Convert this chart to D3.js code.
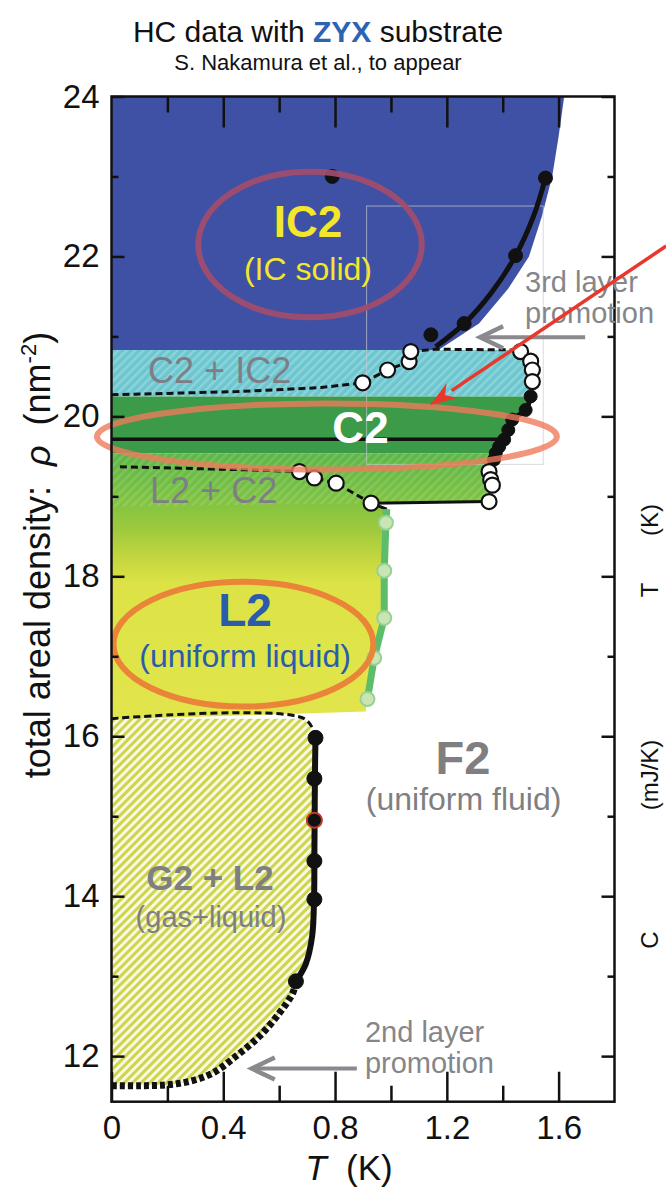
<!DOCTYPE html>
<html><head><meta charset="utf-8">
<script src="https://cdn.jsdelivr.net/npm/d3@7/dist/d3.min.js"></script>
<style>html,body{margin:0;padding:0;background:#fff;} svg{display:block;font-family:"Liberation Sans",Arial,Helvetica,sans-serif;}</style>
</head><body>
<svg id="chart" width="666" height="1189"></svg>
<script>
// ---------------- data ----------------
const xMajorTicks = [0, 0.4, 0.8, 1.2, 1.6];
const xTickLabels = ["0", "0.4", "0.8", "1.2", "1.6"];
const xMinorTicks = [0.2, 0.6, 1.0, 1.4];
const yMajorTicks = [12, 14, 16, 18, 20, 22, 24];
const yTickLabels = ["12", "14", "16", "18", "20", "22", "24"];
const yMinorTicks = [13, 15, 17, 19, 21, 23];

// phase boundaries (T [K], rho [nm^-2])
const ic2Edge = [[1.62,24],[1.60,23.5],[1.577,23],[1.54,22.5],[1.494,22],[1.42,21.6],[1.315,21.16],[1.17,20.83]];
const c2ic2Edge = [[1.47,20.83],[1.50,20.69],[1.51,20.58],[1.51,20.435],[1.505,20.25]];
const c2Edge = [[1.505,20.25],[1.49,20.08],[1.44,19.96],[1.425,19.83],[1.41,19.71],[1.39,19.62],[1.375,19.54]];
const l2c2Edge = [[1.375,19.54],[1.365,19.3],[1.36,19.1],[1.355,18.93],[0.93,18.915]];
const l2Edge = [[0.985,18.84],[0.982,18.67],[0.976,18.07],[0.976,17.48],[0.94,16.98],[0.916,16.465],[0.91,16.31]];
const ic2Bottom = 20.83, c2Top = 20.25, c2Bottom = 19.54, l2c2HatchLeft = 18.87, l2BottomLeft = 16.21;
const g2l2Top = [[0,16.22],[0.69,16.22],[0.73,16.0]];
const g2l2Line = [[0.73,16.0],[0.728,15.5],[0.727,15.0],[0.726,14.5],[0.725,14.0],[0.718,13.5],[0.695,13.15],[0.66,12.935]];
const g2l2Dotted = [[0.66,12.935],[0.6486,12.79],[0.601,12.54],[0.53,12.25],[0.446,12.0],[0.363,11.79],[0.28,11.685],[0.196,11.64],[0.1,11.63],[0.0,11.63]];

// measured points
const ic2Line = [[1.16,20.87],[1.262,21.16],[1.36,21.55],[1.446,22.01],[1.51,22.5],[1.553,22.98]];
const ic2Dots = [[0.79,23.0],[1.143,21.02],[1.262,21.16],[1.446,22.01],[1.553,22.98]];
const c2Dots = [[1.5,20.25],[1.482,20.08],[1.434,19.96],[1.42,19.83],[1.405,19.71],[1.387,19.62],[1.375,19.54],[1.369,19.46]];
const cyanLeftOpen = [[0.899,20.42],[0.988,20.58],[1.065,20.685],[1.071,20.81]];
const cyanRightOpen = [[1.464,20.81],[1.5,20.69],[1.506,20.58],[1.506,20.435]];
const l2c2LeftOpen = [[0.6725,19.31],[0.726,19.23],[0.804,19.165],[0.929,18.915]];
const l2c2RightOpen = [[1.351,19.31],[1.357,19.21],[1.363,19.14],[1.351,18.935]];
const l2Points = [[0.982,18.67],[0.976,18.07],[0.976,17.48],[0.94,16.98],[0.916,16.465]];
const g2l2Dots = [[0.73,15.98],[0.726,15.47],[0.726,14.95],[0.726,14.44],[0.726,13.96],[0.66,12.935]];
const highlightedDot = [[0.726,14.95]];

// dashed / solid guide lines
const dashC2IC2Top = [[1.071,20.81],[1.16,20.84],[1.46,20.83]];
const dashC2IC2Bottom = [[0,20.27],[0.45,20.31],[0.75,20.36],[0.899,20.42],[0.988,20.58],[1.065,20.685],[1.071,20.81]];
const dashL2C2 = [[0.03,19.37],[0.5,19.33],[0.6725,19.31],[0.726,19.23],[0.804,19.165],[0.929,18.915]];
const c2Line = [[0,19.715],[1.405,19.715]];
const l2c2Floor = [[0.929,18.915],[1.351,18.935]];
const l2Link = [[0.929,18.915],[0.985,18.84]];

// annotation ellipses: [T, rho, rT, rRho]
const ellipseIC2 = [0.7105, 22.149, 0.40, 0.91];
const ellipseC2 = [0.771, 19.748, 0.823, 0.413];
const ellipseL2 = [0.472, 17.151, 0.465, 0.78];

// arrows
const redArrow = [[1.985,22.13],[1.140,20.14]];
const arrow3rd = [[1.695,20.99],[1.319,20.99]];
const arrow2nd = [[0.878,11.844],[0.502,11.844]];
const insetBox = [[0.913,22.63],[1.545,19.4]];

// ---------------- chart ----------------
const svg = d3.select("#chart");
const defs = svg.append("defs");
const x = d3.scaleLinear().domain([0, 1.8]).range([111.5, 614.5]);
const y = d3.scaleLinear().domain([11.43, 24]).range([1101.7, 96.5]);
const X0 = x(0), X1 = x(1.8), Y0 = y(24), Y1 = y(11.43);

defs.append("clipPath").attr("id","plotclip").append("rect")
  .attr("x",X0).attr("y",Y0).attr("width",X1-X0).attr("height",Y1-Y0);

function stripes(id, bg, fg, size, lw){
  const p = defs.append("pattern").attr("id",id).attr("patternUnits","userSpaceOnUse")
    .attr("width",size).attr("height",size).attr("patternTransform","rotate(45)");
  if (bg) p.append("rect").attr("width",size).attr("height",size).attr("fill",bg);
  p.append("rect").attr("width",lw).attr("height",size).attr("fill",fg);
}
stripes("hatchG2L2", "#f8f9e0", "#cdd54f", 6, 3);
stripes("hatchCyan", "#6cc6cf", "#8dd3da", 6, 2.5);
stripes("hatchL2C2", null, "rgba(255,255,255,0.13)", 6, 2.5);

const grad = defs.append("linearGradient").attr("id","l2grad").attr("gradientUnits","userSpaceOnUse")
  .attr("x1",0).attr("x2",0).attr("y1",y(c2Bottom)).attr("y2",y(l2BottomLeft));
const gradStops = [[19.54,"#5cb547"],[19.0,"#7cc243"],[18.6,"#9dc93d"],[18.2,"#c6d73f"],[17.9,"#dde346"],[16.21,"#e1e54b"]];
gradStops.forEach(([r,c]) => grad.append("stop")
  .attr("offset", (y(r)-y(c2Bottom))/(y(l2BottomLeft)-y(c2Bottom))).attr("stop-color",c));

const lin = d3.line().x(d=>x(d[0])).y(d=>y(d[1]));
const smooth = d3.line().x(d=>x(d[0])).y(d=>y(d[1])).curve(d3.curveCatmullRom.alpha(0.5));

const plot = svg.append("g").attr("clip-path","url(#plotclip)");

// regions
plot.append("path").attr("d", lin([[0,24], ...ic2Edge, [0,ic2Bottom]]) + "Z").attr("fill","#3e51a4");
plot.append("path").attr("d", lin([[0,ic2Bottom], ...c2ic2Edge, [0,c2Top]]) + "Z").attr("fill","url(#hatchCyan)");
plot.append("path").attr("d", lin([[0,c2Top], ...c2Edge, [0,c2Bottom]]) + "Z").attr("fill","#3b9b48");
plot.append("path").attr("d", lin([[0,c2Bottom], ...l2c2Edge, ...l2Edge, [0,l2BottomLeft]]) + "Z").attr("fill","url(#l2grad)");
plot.append("path").attr("d", lin([[0,c2Bottom], ...l2c2Edge, [0,l2c2HatchLeft]]) + "Z").attr("fill","url(#hatchL2C2)");
plot.append("path").attr("d", lin([...g2l2Top, ...g2l2Line.slice(1), ...g2l2Dotted.slice(1)]) + "Z").attr("fill","url(#hatchG2L2)");

// faint inset box
plot.append("rect").attr("x",x(insetBox[0][0])).attr("y",y(insetBox[0][1]))
  .attr("width",x(insetBox[1][0])-x(insetBox[0][0])).attr("height",y(insetBox[1][1])-y(insetBox[0][1]))
  .attr("fill","none").attr("stroke","#c9c9d2").attr("stroke-width",1).attr("opacity",0.7);

// lines
const dashStyle = s => s.attr("fill","none").attr("stroke","#111").attr("stroke-width",3).attr("stroke-dasharray","7,4");
plot.append("path").attr("d", lin(dashC2IC2Top)).call(dashStyle);
plot.append("path").attr("d", lin(dashC2IC2Bottom)).call(dashStyle);
plot.append("path").attr("d", lin(dashL2C2)).call(dashStyle);
plot.append("path").attr("d", smooth(g2l2Top)).call(dashStyle);
plot.append("path").attr("d", lin(c2Line)).attr("fill","none").attr("stroke","#111").attr("stroke-width",3.5);
plot.append("path").attr("d", lin(l2c2Floor)).attr("fill","none").attr("stroke","#111").attr("stroke-width",3);
plot.append("path").attr("d", lin(l2Link)).attr("fill","none").attr("stroke","#111").attr("stroke-width",3);
plot.append("path").attr("d", smooth(ic2Line)).attr("fill","none").attr("stroke","#111").attr("stroke-width",5);
plot.append("path").attr("d", smooth(c2Dots)).attr("fill","none").attr("stroke","#111").attr("stroke-width",5);
plot.append("path").attr("d", smooth(g2l2Line)).attr("fill","none").attr("stroke","#111").attr("stroke-width",6);
plot.append("path").attr("d", smooth(g2l2Dotted)).attr("fill","none").attr("stroke","#111").attr("stroke-width",7).attr("stroke-dasharray","5,3");
plot.append("path").attr("d", lin([[0.985,18.84], ...l2Points])).attr("fill","none").attr("stroke","#5dbd6b").attr("stroke-width",7).attr("stroke-linejoin","round");

// points
function dots(data, r, fill, stroke, sw){
  plot.append("g").selectAll("circle").data(data).join("circle")
    .attr("cx",d=>x(d[0])).attr("cy",d=>y(d[1])).attr("r",r)
    .attr("fill",fill).attr("stroke",stroke).attr("stroke-width",sw);
}
dots(l2Points, 7, "#c8e5b3", "#98d196", 2);
dots(ic2Dots, 7, "#111", "#111", 1);
dots(c2Dots, 6.5, "#111", "#111", 1);
dots(g2l2Dots, 7.5, "#111", "#111", 1);
dots(highlightedDot, 7.5, "#111", "#c0392b", 2);
dots(cyanLeftOpen, 7.5, "#fff", "#111", 2.2);
dots(cyanRightOpen, 7.5, "#fff", "#111", 2.2);
dots(l2c2LeftOpen, 7.5, "#fff", "#111", 2.2);
dots(l2c2RightOpen, 7.5, "#fff", "#111", 2.2);

// ellipses
function ell(e, color, op){
  plot.append("ellipse").attr("cx",x(e[0])).attr("cy",y(e[1]))
    .attr("rx",x(e[2])-x(0)).attr("ry",y(0)-y(e[3]))
    .attr("fill","none").attr("stroke",color).attr("stroke-width",6).attr("stroke-opacity",op);
}
ell(ellipseIC2, "#a24c6c", 0.92);
svg.append("ellipse").attr("cx",x(ellipseC2[0])).attr("cy",y(ellipseC2[1]))
  .attr("rx",x(ellipseC2[2])-x(0)).attr("ry",y(0)-y(ellipseC2[3]))
  .attr("fill","none").attr("stroke","#f07a5c").attr("stroke-width",6).attr("stroke-opacity",0.8);
ell(ellipseL2, "#ea8438", 1);

// region labels
function label(txt, T, r, size, weight, color, anchor){
  return svg.append("text").attr("x",x(T)).attr("y",y(r)).attr("font-size",size)
    .attr("font-weight",weight).attr("fill",color).attr("text-anchor",anchor||"middle").text(txt);
}
label("IC2", 0.703, 22.243, 44, "bold", "#f3e62c");
label("(IC solid)", 0.703, 21.705, 32, "normal", "#f3e62c");
label("C2", 0.891, 19.667, 44, "bold", "#ffffff");
label("C2 + IC2", 0.131, 20.417, 36, "normal", "#7e7e86", "start");
label("L2 + C2", 0.138, 18.917, 36, "normal", "#7e7e86", "start");
label("L2", 0.478, 17.379, 46, "bold", "#2b5cab");
label("(uniform liquid)", 0.478, 16.866, 32, "normal", "#2b5cab");
label("F2", 1.258, 15.528, 47, "bold", "#7f7f82");
label("(uniform fluid)", 1.26, 15.078, 32, "normal", "#7f7f82");
label("G2 + L2", 0.3525, 14.078, 35, "bold", "#7f7f82");
label("(gas+liquid)", 0.356, 13.615, 29, "normal", "#7f7f82");

// axes
function styleAxis(g){
  g.select(".domain").remove();
  g.selectAll(".tick line").attr("stroke","#111").attr("stroke-width",2.5);
  g.selectAll(".tick text").attr("fill","#111").attr("font-size",33)
    .attr("font-family",'"Liberation Sans",Arial,sans-serif');
}
svg.append("g").attr("transform",`translate(0,${Y1})`)
  .call(d3.axisBottom(x).tickValues(xMajorTicks).tickSize(-30).tickPadding(14).tickFormat((d,i)=>xTickLabels[i])).call(styleAxis);
svg.append("g").attr("transform",`translate(0,${Y1})`)
  .call(d3.axisBottom(x).tickValues(xMinorTicks).tickSize(-16).tickFormat("")).call(styleAxis);
svg.append("g").attr("transform",`translate(0,${Y0})`)
  .call(d3.axisTop(x).tickValues(xMajorTicks.slice(1)).tickSize(-31).tickFormat("")).call(styleAxis);
svg.append("g").attr("transform",`translate(0,${Y0})`)
  .call(d3.axisTop(x).tickValues(xMinorTicks).tickSize(-16).tickFormat("")).call(styleAxis);
svg.append("g").attr("transform",`translate(${X0},0)`)
  .call(d3.axisLeft(y).tickValues(yMajorTicks).tickSize(-13).tickPadding(12).tickFormat((d,i)=>yTickLabels[i])).call(styleAxis);
svg.append("g").attr("transform",`translate(${X0},0)`)
  .call(d3.axisLeft(y).tickValues(yMinorTicks).tickSize(-7).tickFormat("")).call(styleAxis);
svg.append("g").attr("transform",`translate(${X1},0)`)
  .call(d3.axisRight(y).tickValues(yMajorTicks).tickSize(-13).tickFormat("")).call(styleAxis);
svg.append("g").attr("transform",`translate(${X1},0)`)
  .call(d3.axisRight(y).tickValues(yMinorTicks).tickSize(-7).tickFormat("")).call(styleAxis);
svg.append("rect").attr("x",X0).attr("y",Y0).attr("width",X1-X0).attr("height",Y1-Y0)
  .attr("fill","none").attr("stroke","#111").attr("stroke-width",2.5);

// arrows
function grayArrow(a){
  const [p0,p1] = a.map(d=>[x(d[0]),y(d[1])]);
  svg.append("line").attr("x1",p0[0]).attr("y1",p0[1]).attr("x2",p1[0]+2).attr("y2",p1[1])
    .attr("stroke","#8a8a8e").attr("stroke-width",4);
  svg.append("path").attr("d",`M${p1[0]+23},${p1[1]-11}L${p1[0]},${p1[1]}L${p1[0]+23},${p1[1]+11}`)
    .attr("fill","none").attr("stroke","#8a8a8e").attr("stroke-width",4.5).attr("stroke-linejoin","miter");
}
grayArrow(arrow3rd);
grayArrow(arrow2nd);
label("3rd layer", 1.48, 21.555, 29, "normal", "#86868a", "start");
label("promotion", 1.48, 21.168, 29, "normal", "#86868a", "start");
label("2nd layer", 0.907, 12.18, 29, "normal", "#86868a", "start");
label("promotion", 0.907, 11.789, 29, "normal", "#86868a", "start");

{
  const [p0,p1] = redArrow.map(d=>[x(d[0]),y(d[1])]);
  const ang = Math.atan2(p1[1]-p0[1], p1[0]-p0[0]);
  const L = 26, Wd = 9;
  const bx = p1[0]-L*Math.cos(ang), by = p1[1]-L*Math.sin(ang);
  svg.append("line").attr("x1",p0[0]).attr("y1",p0[1]).attr("x2",bx).attr("y2",by)
    .attr("stroke","#e8372b").attr("stroke-width",3.5);
  svg.append("path").attr("d",`M${p1[0]},${p1[1]}L${bx+Wd*Math.sin(ang)},${by-Wd*Math.cos(ang)}L${bx+8*Math.cos(ang)},${by+8*Math.sin(ang)}L${bx-Wd*Math.sin(ang)},${by+Wd*Math.cos(ang)}Z`)
    .attr("fill","#e8372b");
}

// axis titles
const xt = svg.append("text").attr("x",(X0+X1)/2 - 14).attr("y",1180).attr("text-anchor","middle")
  .attr("font-size",35).attr("fill","#111");
xt.append("tspan").attr("font-style","italic").text("T");
xt.append("tspan").text("\u00a0\u00a0(K)");

const yt = svg.append("text").attr("transform",`translate(50,${555}) rotate(-90)`).attr("text-anchor","middle")
  .attr("font-size",36).attr("fill","#111");
yt.append("tspan").text("total areal density:\u00a0\u00a0");
yt.append("tspan").attr("font-style","italic").text("\u03c1");
yt.append("tspan").text("\u00a0\u00a0(nm");
yt.append("tspan").attr("font-size",22).attr("dy",-14).text("-2");
yt.append("tspan").attr("dy",14).text(")");

// title
const tt = svg.append("text").attr("x",318).attr("y",42).attr("text-anchor","middle").attr("font-size",30).attr("fill","#111");
tt.append("tspan").text("HC data with ");
tt.append("tspan").attr("font-weight","bold").attr("fill","#2c63b3").text("ZYX");
tt.append("tspan").text(" substrate");
svg.append("text").attr("x",318).attr("y",70).attr("text-anchor","middle").attr("font-size",22).attr("fill","#111")
  .text("S. Nakamura et al., to appear");

// labels of the neighbouring panel (at the right edge)
[["T",590],["(K)",520],["C",940],["(mJ/K)",775]].forEach(([t,yy]) => {
  svg.append("text").attr("transform",`translate(658,${yy}) rotate(-90)`).attr("text-anchor","middle")
    .attr("font-size",24).attr("fill","#111").text(t);
});
</script>
</body></html>
